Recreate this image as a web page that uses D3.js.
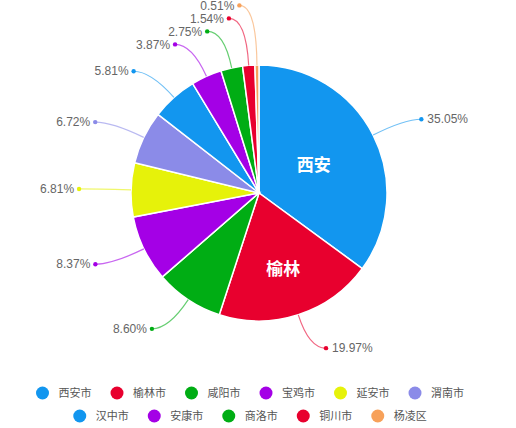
<!DOCTYPE html>
<html>
<head>
<meta charset="utf-8">
<script src="https://cdn.jsdelivr.net/npm/d3@7/dist/d3.min.js"></script>
<style>
  body { margin: 0; background: #fff; }
  svg { display: block; font-family: "Liberation Sans", "Noto Sans CJK SC", sans-serif; }
</style>
</head>
<body>
<svg id="chart" width="516" height="428"></svg>
<script>
// data
const cities = ["西安市", "榆林市", "咸阳市", "宝鸡市", "延安市", "渭南市", "汉中市", "安康市", "商洛市", "铜川市", "杨凌区"];
const shares = [35.05, 19.97, 8.60, 8.37, 6.81, 6.72, 5.81, 3.87, 2.75, 1.54, 0.51];
const colors = ["#1296ef", "#e8002e", "#00ad14", "#a400e6", "#e6f20a", "#8b8be8", "#1296ef", "#a400e6", "#00ad14", "#e8002e", "#f7a15a"];
const insideNames = ["西安", "榆林"];

const width = 516, height = 428;
const cx = 259, cy = 193, radius = 128;
const len1 = 35, len2 = 17, gap = 13;

const svg = d3.select("#chart");

const pie = d3.pie().sort(null).value(d => d);
const arcs = pie(shares);
const arc = d3.arc().innerRadius(0).outerRadius(radius);

const g = svg.append("g").attr("transform", `translate(${cx},${cy})`);

g.selectAll("path.slice")
  .data(arcs)
  .enter()
  .append("path")
  .attr("class", "slice")
  .attr("d", arc)
  .attr("fill", (d, i) => colors[i])
  .attr("stroke", "#fff")
  .attr("stroke-width", 1.5);

// label positions: out along the mid angle, then a short horizontal run
const labels = arcs.map((d, i) => {
  const a = (d.startAngle + d.endAngle) / 2;
  const s = Math.sin(a), c = -Math.cos(a);
  const right = s > 0;
  const px = (radius + len1) * s, py = (radius + len1) * c;
  return {
    i: i,
    right: right,
    ex: radius * s, ey: radius * c,
    px: px, py: py,
    x: px + (right ? len2 : -len2),
    y: py
  };
});

// push overlapping labels apart, away from the horizontal middle
[true, false].forEach(side => {
  const upper = labels.filter(l => l.right === side && l.y < 0).sort((a, b) => b.y - a.y);
  for (let k = 1; k < upper.length; k++) {
    if (upper[k].y > upper[k - 1].y - gap) upper[k].y = upper[k - 1].y - gap;
  }
  const lower = labels.filter(l => l.right === side && l.y >= 0).sort((a, b) => a.y - b.y);
  for (let k = 1; k < lower.length; k++) {
    if (lower[k].y < lower[k - 1].y + gap) lower[k].y = lower[k - 1].y + gap;
  }
});

const lab = g.selectAll("g.label").data(labels).enter().append("g").attr("class", "label");

lab.append("path")
  .attr("d", l => `M${l.ex},${l.ey} Q${l.px},${l.y} ${l.x},${l.y}`)
  .attr("fill", "none")
  .attr("stroke", l => colors[l.i])
  .attr("stroke-opacity", 0.6)
  .attr("stroke-width", 1.2);

lab.append("circle")
  .attr("cx", l => l.x)
  .attr("cy", l => l.y)
  .attr("r", 2.2)
  .attr("fill", l => colors[l.i]);

lab.append("text")
  .attr("x", l => l.x + (l.right ? 6 : -5))
  .attr("y", l => l.y)
  .attr("dy", "0.35em")
  .attr("text-anchor", l => l.right ? "start" : "end")
  .attr("font-size", 12)
  .attr("fill", "#666")
  .text(l => shares[l.i].toFixed(2) + "%");

// names inside the two biggest slices
const insideR = [0.48, 0.62];
g.selectAll("text.inside")
  .data(insideNames)
  .enter()
  .append("text")
  .attr("class", "inside")
  .attr("transform", (d, i) => {
    const a = (arcs[i].startAngle + arcs[i].endAngle) / 2;
    const r = radius * insideR[i];
    return `translate(${r * Math.sin(a)},${-r * Math.cos(a)})`;
  })
  .attr("text-anchor", "middle")
  .attr("dy", "0.36em")
  .attr("font-family", "Noto Sans CJK SC")
  .attr("font-weight", "bold")
  .attr("font-size", 17)
  .attr("fill", "#fff")
  .text(d => d);

// legend, two centered rows
const perRow = 6, itemW = 74.5, rowY = [393, 416];
const legend = svg.append("g").attr("class", "legend");
cities.forEach((name, i) => {
  const row = Math.floor(i / perRow);
  const col = i % perRow;
  const n = Math.min(perRow, cities.length - row * perRow);
  const x0 = 258 - n * itemW / 2 + col * itemW;
  const item = legend.append("g").attr("transform", `translate(${x0},${rowY[row]})`);
  item.append("circle")
    .attr("cx", 8)
    .attr("cy", 0)
    .attr("r", 6.5)
    .attr("fill", colors[i]);
  item.append("text")
    .attr("x", 24)
    .attr("y", 0)
    .attr("dy", "0.35em")
    .attr("font-family", "Noto Sans CJK SC")
    .attr("font-size", 11)
    .attr("fill", "#555")
    .text(name);
});
</script>
</body>
</html>
